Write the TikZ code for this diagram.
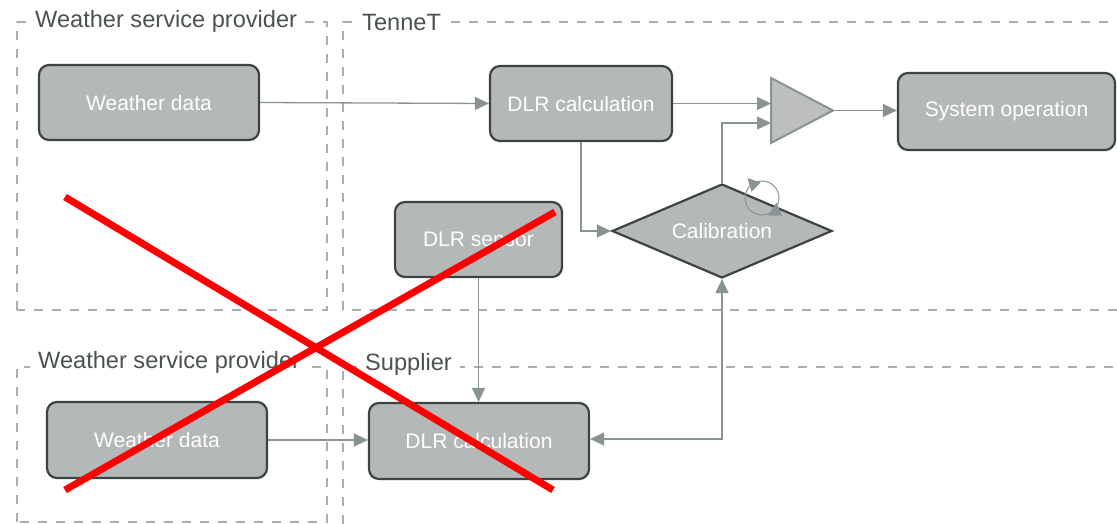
\documentclass[tikz,border=0pt]{standalone}
\usepackage{fontspec}
\setmainfont{Liberation Sans}
\usetikzlibrary{arrows.meta,shapes.geometric}
\definecolor{boxfill}{HTML}{B4B8B9}
\definecolor{boxline}{HTML}{3D4242}
\definecolor{connline}{HTML}{8A9393}
\definecolor{frameline}{HTML}{A9AEAE}
\definecolor{titletext}{HTML}{4B5252}
\definecolor{ampfill}{HTML}{BDBEBE}
\definecolor{crossred}{HTML}{FF0000}
\tikzset{
  procbox/.style={draw=boxline, line width=2.2pt, fill=boxfill, rounded corners=10pt,
    text=white, font=\fontsize{21}{25}\selectfont, inner sep=0pt},
  decision/.style={diamond, draw=boxline, line width=2.2pt, fill=boxfill,
    text=white, font=\fontsize{21}{25}\selectfont, inner sep=0pt},
  ampshape/.style={draw=connline, line width=2pt, fill=ampfill, line join=miter},
  conn/.style={draw=connline, line width=1.3pt, -{Triangle[length=14pt,width=13pt]}},
  cyclehead/.style={fill=connline, draw=none},
  frame/.style={draw=frameline, line width=2pt, dash pattern=on 9pt off 9pt},
  grouptitle/.style={fill=white, text=titletext, font=\fontsize{23.6}{28}\selectfont,
    inner xsep=8pt, inner ysep=4pt, anchor=west},
  cross/.style={draw=crossred, line width=7pt}
}
\begin{document}
\begin{tikzpicture}[x=1pt, y=-1pt]
\useasboundingbox (0,0) rectangle (1117,524);

% group frames
\draw[frame] (17,310) -- (17,22) -- (327,22) -- (327,310) -- cycle;
\draw[frame] (1117,310) -- (343,310) -- (343,22) -- (1117,22);
\draw[frame] (17,522) -- (17,367) -- (327,367) -- (327,522) -- cycle;
\draw[frame] (343,524) -- (343,367) -- (1117,367);

\node[grouptitle] (gWtop) at (27,21) {Weather service provider};
\node[grouptitle] (gTennet) at (354,22) {TenneT};
\node[grouptitle] (gWbot) at (30,362) {Weather service provider};
\node[grouptitle] (gSupp) at (357,364) {Supplier};

% process boxes
\node[procbox, minimum width=220pt, minimum height=75pt] (wd1) at (149,102.5) {Weather data};
\node[procbox, minimum width=182pt, minimum height=75pt] (dlr1) at (581,103.5) {DLR calculation};
\node[procbox, minimum width=217pt, minimum height=77pt] (sysop) at (1006.5,111.5) {System operation};
\node[procbox, minimum width=167pt, minimum height=75pt] (sensor) at (478.5,239.5) {DLR sensor};
\node[procbox, minimum width=220pt, minimum height=76pt] (wd2) at (157,440) {Weather data};
\node[procbox, minimum width=220pt, minimum height=76pt] (dlr2) at (479,441) {DLR calculation};

\node[decision, minimum width=220pt, minimum height=94pt] (cal) at (722,231)
  {\smash{\makebox[0pt]{\raisebox{-7.5pt}{Calibration}}}};

% combining block (triangle)
\coordinate (ampTop) at (771,78);
\coordinate (ampBot) at (771,143);
\coordinate (ampTip) at (833,110.5);
\draw[ampshape] (ampTop) -- (ampTip) -- (ampBot) -- cycle;

% cycle symbol on the calibration step
\coordinate (cyc) at (762,198);
\draw[connline, line width=1pt] (cyc) circle[radius=17pt];
\fill[cyclehead] (747.5,178) -- (760.5,182.5) -- (751.5,192) -- cycle;
\fill[cyclehead] (768,215.5) -- (782,215.5) -- (776.5,202.5) -- cycle;

% connectors
\draw[conn] (wd1.east) -- (dlr1.west);
\draw[conn] (dlr1.east) -- (dlr1.east -| ampTop);
\draw[conn] (cal.north) |- (771,123);
\draw[conn] (ampTip) -- (ampTip -| sysop.west);
\draw[conn] (dlr1.south) |- (cal.west);
\draw[conn] (sensor.south) -- (sensor.south |- dlr2.north);
\draw[conn] (wd2.east) -- (wd2.east -| dlr2.west);
\draw[conn, {Triangle[length=14pt,width=13pt]}-{Triangle[length=14pt,width=13pt]}]
  ([yshift=2pt]dlr2.east) -| (cal.south);

% crossed-out part
\coordinate (xa) at (65,197);
\coordinate (xb) at (553,490);
\coordinate (xc) at (65,490);
\coordinate (xd) at (555,212);
\draw[cross] (xa) -- (xb);
\draw[cross] (xc) -- (xd);
\end{tikzpicture}
\end{document}
